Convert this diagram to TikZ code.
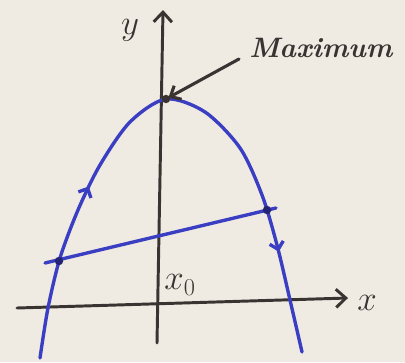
\documentclass[tikz,border=0pt]{standalone}
\usepackage{tikz}
\usetikzlibrary{arrows.meta,calc,decorations.markings}
\definecolor{paper}{HTML}{EFEAE2}
\definecolor{inkblue}{HTML}{3A3EC2}
\definecolor{inkblack}{HTML}{393431}

\begin{document}
\begin{tikzpicture}[x=0.025cm,y=-0.025cm,
  ink/.style={inkblack,line width=2.1pt,line cap=round},
  curve/.style={inkblue,line width=2.4pt,line cap=round},
  dot/.style={circle,fill=#1,inner sep=0pt,minimum size=6pt},
  lbl/.style={inkblack,font=\fontsize{26}{30}\selectfont}]
  \useasboundingbox (0,0) rectangle (405,362);
  \fill[paper] (0,0) rectangle (405,362);
  % axes
  \draw[ink,-{Straight Barb[length=7pt,width=13pt]}] (17,308) -- (348,298);
  \draw[ink,-{Straight Barb[length=7pt,width=13pt]}] (157,343) -- (163,10);
  \node[lbl] (ylab) at (130,30) {$y$};
  \node[lbl] (xlab) at (367,303) {$x$};
  \node[lbl,font=\fontsize{24}{28}\selectfont] (x0lab) at (180,285) {$x_0$};
  % parabola
  \draw[curve,postaction={decorate},decoration={markings,
      mark=at position 0.296 with {\arrow{Straight Barb[length=5pt,width=10pt]}},
      mark=at position 0.83 with {\arrow{Straight Barb[length=5pt,width=10pt]}}}]
    plot[smooth] coordinates {(40,358) (48,308) (60,258) (78,210) (100,165) (130,122)
      (166,99) (205,112) (240,148) (262,195) (277,245) (290,300) (302,352)};
  \coordinate (top) at (166,99);
  \coordinate (p1) at (59,261);
  \coordinate (p2) at (267,210);
  \coordinate (c1) at (45,263);
  \coordinate (c2) at (276,208);
  \draw[curve] (c1) -- (c2);
  \node[dot=inkblue!60!black] at (p1) {};
  \node[dot=inkblue!60!black] at (p2) {};
  \node[dot=inkblack] at (top) {};
  % label for the top point
  \node[lbl,font=\bfseries\itshape\fontsize{20}{26}\selectfont,anchor=west,inner sep=0pt] (maxlab) at (249,48) {Maximum};
  \draw[ink,line width=2.2pt,-{Straight Barb[length=6pt,width=11pt]},shorten >=2pt]
    ($(maxlab.west)+(-10,11)$) -- (top);
\end{tikzpicture}
\end{document}
